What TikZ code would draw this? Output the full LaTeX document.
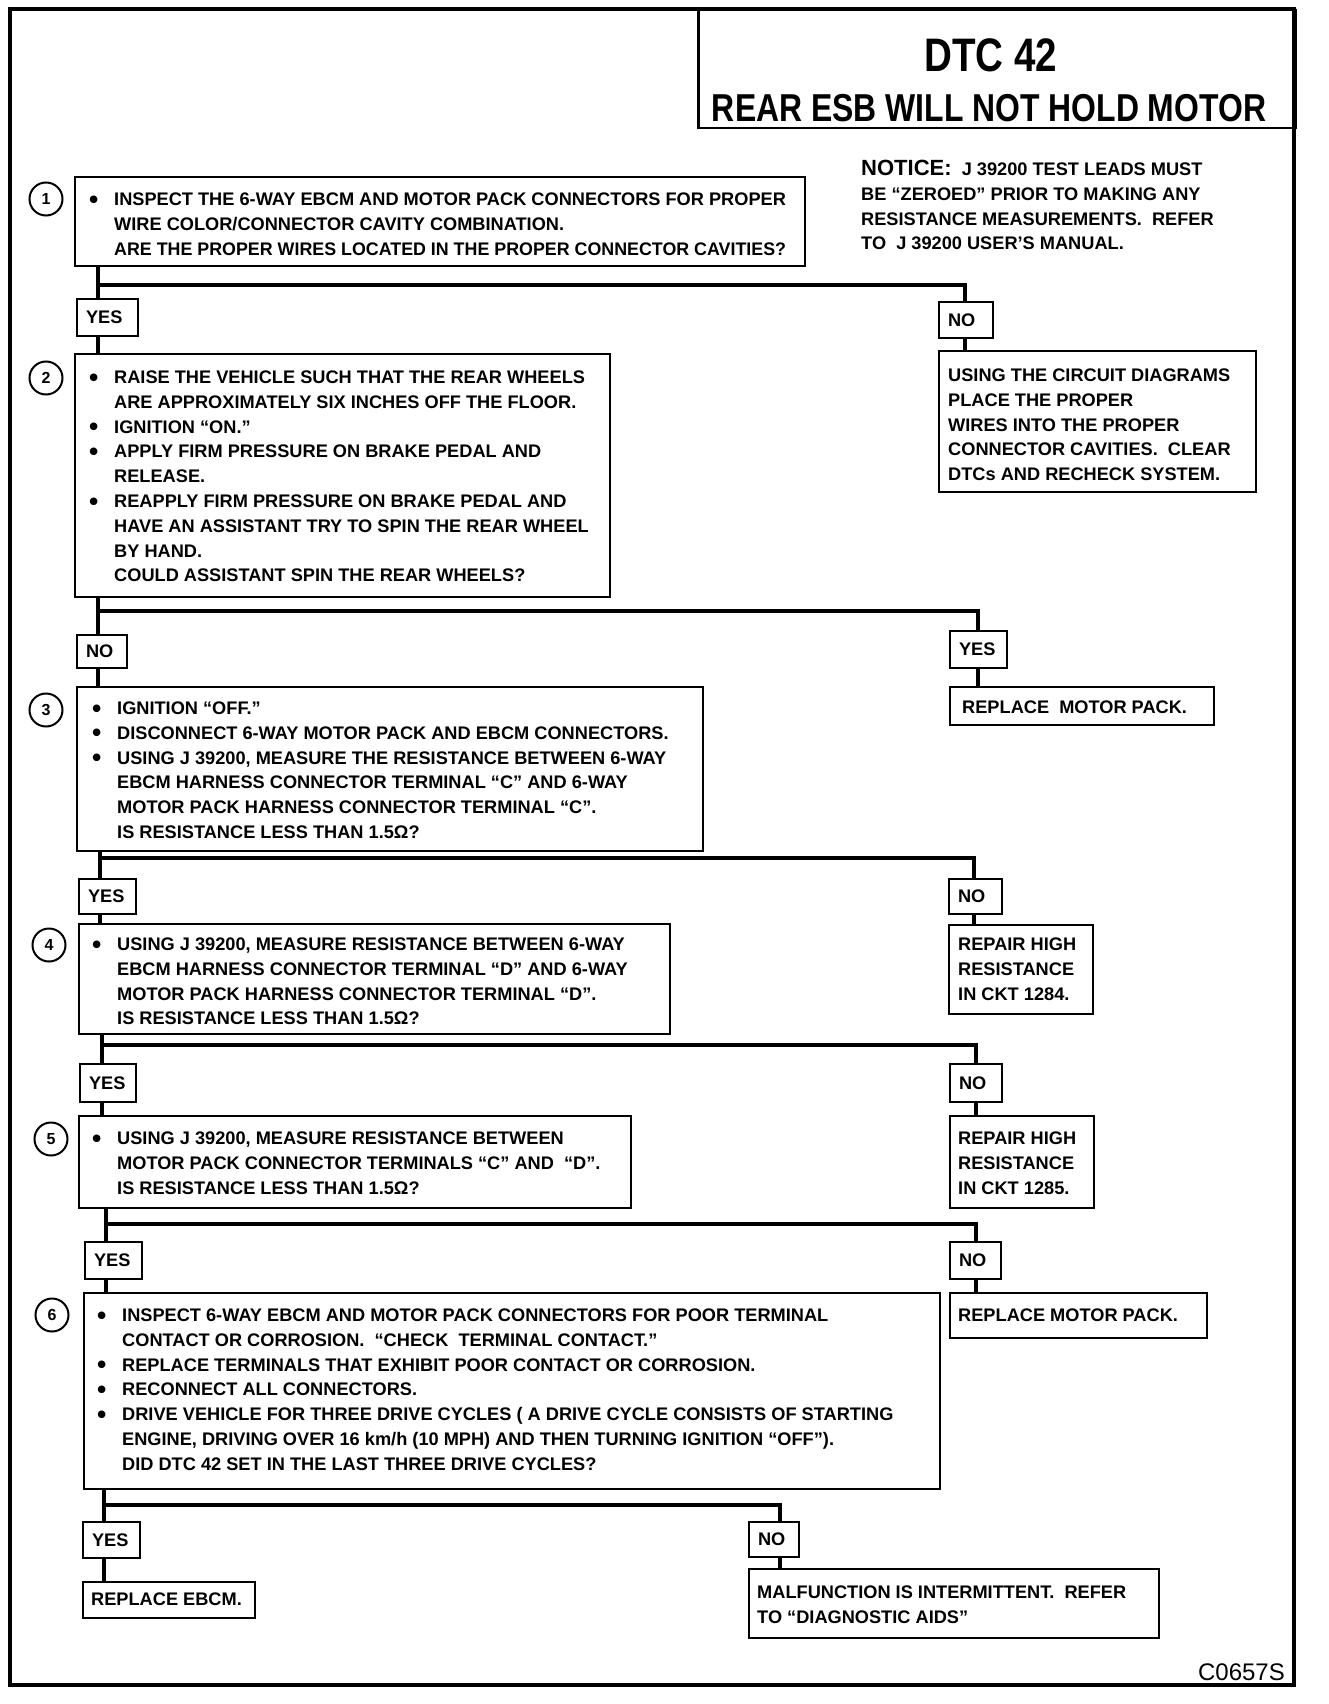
\documentclass[tikz,border=0pt]{standalone}
\usepackage{fontspec}
\usepackage{graphicx}
\setmainfont{Liberation Sans}
\newfontfamily\titlefont[FakeStretch=0.82]{Liberation Sans}
\usepackage{tikz}
\usetikzlibrary{positioning,calc}

\newcommand\bodyfont{\fontsize{18.2}{24.8}\selectfont\bfseries}
\newcommand\bul{\makebox[25pt][l]{\raisebox{-2.6pt}{\scalebox{1.45}{\textbullet}}}}
\newcommand\ind{\hspace*{25pt}}

\begin{document}
\begin{tikzpicture}[
    x=1pt, y=-1pt,
    frame/.style={line width=4.5pt},
    stepbox/.style={draw, line width=2pt, anchor=north west, inner sep=0pt},
    txt/.style={anchor=base west, inner sep=0pt, align=left, font=\bodyfont},
    lbl/.style={draw, line width=2pt, anchor=north west, inner xsep=9pt, inner ysep=0pt, align=left, font=\bodyfont},
    num/.style={draw, circle, line width=2pt, minimum size=33pt, inner sep=0pt, font=\fontsize{16}{16}\selectfont\bfseries},
    flow/.style={line width=4.5pt}
]
    \useasboundingbox (0,0) rectangle (1328,1704);

    % Frame and title
    \draw[frame] (10,9) rectangle (1294,1685);
    \node[stepbox, line width=2.5pt, minimum width=597pt, minimum height=118pt] (ttl) at (697,9) {};
    \node[anchor=base, inner sep=0pt, font=\titlefont\fontsize{47}{47}\selectfont\bfseries] (dtc) at (991,72) {DTC 42};
    \node[anchor=base, inner sep=0pt, font=\titlefont\fontsize{38.9}{40}\selectfont\bfseries] (sub) at (989,122) {REAR ESB WILL NOT HOLD MOTOR};

    % Notice (text nodes sit on the baseline of their last line)
    \node[txt] (notice) at (861,250) {{\fontsize{22}{24.8}\selectfont NOTICE:}~~J 39200 TEST LEADS MUST\\
        BE “ZEROED” PRIOR TO MAKING ANY\\
        RESISTANCE MEASUREMENTS.~~REFER\\
        TO~~J 39200 USER’S MANUAL.};

    % Step 1
    \node[num] (c1) at (46,199) {1};
    \node[stepbox, minimum width=730pt, minimum height=89pt] (b1) at (74,176) {};
    \node[txt] (t1) at (89,255.1) {\bul INSPECT THE 6-WAY EBCM AND MOTOR PACK CONNECTORS FOR PROPER\\
        \ind WIRE COLOR/CONNECTOR CAVITY COMBINATION.\\
        \ind \scalebox{0.98}[1]{ARE THE PROPER WIRES LOCATED IN THE PROPER CONNECTOR CAVITIES?}};

    % Branch 1
    \coordinate (j1) at (98,285);
    \coordinate (k1) at (965,285);
    \node[lbl, text width=43pt, minimum height=37pt] (y1) at (76,298) {YES};
    \node[lbl, text width=36pt, minimum height=36pt] (n1) at (938,301) {NO};
    \node[stepbox, minimum width=317pt, minimum height=141pt] (r1) at (938,350) {};
    \node[txt] (s1) at (948,480.7) {USING THE CIRCUIT DIAGRAMS\\
        PLACE THE PROPER\\
        WIRES INTO THE PROPER\\
        CONNECTOR CAVITIES.~~CLEAR\\
        DTCs AND RECHECK SYSTEM.};

    % Step 2
    \node[num] (c2) at (46,378) {2};
    \node[stepbox, minimum width=535pt, minimum height=243pt] (b2) at (74,353) {};
    \node[txt] (t2) at (89,581.9) {\bul RAISE THE VEHICLE SUCH THAT THE REAR WHEELS\\
        \ind ARE APPROXIMATELY SIX INCHES OFF THE FLOOR.\\
        \bul IGNITION “ON.”\\
        \bul APPLY FIRM PRESSURE ON BRAKE PEDAL AND\\
        \ind RELEASE.\\
        \bul REAPPLY FIRM PRESSURE ON BRAKE PEDAL AND\\
        \ind HAVE AN ASSISTANT TRY TO SPIN THE REAR WHEEL\\
        \ind BY HAND.\\
        \ind COULD ASSISTANT SPIN THE REAR WHEELS?};

    % Branch 2
    \coordinate (j2) at (98,611);
    \coordinate (k2) at (978,611);
    \node[lbl, text width=32pt, minimum height=33pt] (n2) at (76,634) {NO};
    \node[lbl, text width=39pt, minimum height=37pt] (y2) at (949,630) {YES};
    \node[stepbox, minimum width=264pt, minimum height=38pt] (r2) at (949,686) {};
    \node[txt] (s2) at (962,713.5) {REPLACE~~MOTOR PACK.};

    % Step 3
    \node[num] (c3) at (46,710) {3};
    \node[stepbox, minimum width=626pt, minimum height=164pt] (b3) at (76,686) {};
    \node[txt] (t3) at (92,838.5) {\bul IGNITION “OFF.”\\
        \bul DISCONNECT 6-WAY MOTOR PACK AND EBCM CONNECTORS.\\
        \bul USING J 39200, MEASURE THE RESISTANCE BETWEEN 6-WAY\\
        \ind EBCM HARNESS CONNECTOR TERMINAL “C” AND 6-WAY\\
        \ind MOTOR PACK HARNESS CONNECTOR TERMINAL “C”.\\
        \ind IS RESISTANCE LESS THAN 1.5Ω?};

    % Branch 3
    \coordinate (j3) at (100,858);
    \coordinate (k3) at (974,858);
    \node[lbl, text width=39pt, minimum height=35pt] (y3) at (78,878) {YES};
    \node[lbl, text width=35pt, minimum height=35pt] (n3) at (948,878) {NO};
    \node[stepbox, minimum width=144pt, minimum height=89pt] (r3) at (948,924) {};
    \node[txt] (s3) at (958,1000.1) {REPAIR HIGH\\ RESISTANCE\\ IN CKT 1284.};

    % Step 4
    \node[num] (c4) at (49,945) {4};
    \node[stepbox, minimum width=591pt, minimum height=110pt] (b4) at (78,923) {};
    \node[txt] (t4) at (92,1024.9) {\bul USING J 39200, MEASURE RESISTANCE BETWEEN 6-WAY\\
        \ind EBCM HARNESS CONNECTOR TERMINAL “D” AND 6-WAY\\
        \ind MOTOR PACK HARNESS CONNECTOR TERMINAL “D”.\\
        \ind IS RESISTANCE LESS THAN 1.5Ω?};

    % Branch 4
    \coordinate (j4) at (102,1045);
    \coordinate (k4) at (976,1045);
    \node[lbl, text width=38pt, minimum height=38pt] (y4) at (79,1063) {YES};
    \node[lbl, text width=34pt, minimum height=38pt] (n4) at (949,1063) {NO};
    \node[stepbox, minimum width=144pt, minimum height=92pt] (r4) at (949,1115) {};
    \node[txt] (s4) at (958,1194.1) {REPAIR HIGH\\ RESISTANCE\\ IN CKT 1285.};

    % Step 5
    \node[num] (c5) at (51,1139) {5};
    \node[stepbox, minimum width=552pt, minimum height=92pt] (b5) at (78,1115) {};
    \node[txt] (t5) at (92,1194.1) {\bul USING J 39200, MEASURE RESISTANCE BETWEEN\\
        \ind MOTOR PACK CONNECTOR TERMINALS “C” AND~~“D”.\\
        \ind IS RESISTANCE LESS THAN 1.5Ω?};

    % Branch 5
    \coordinate (j5) at (106,1224);
    \coordinate (k5) at (976,1224);
    \node[lbl, text width=39pt, minimum height=37pt] (y5) at (84,1241) {YES};
    \node[lbl, text width=33pt, minimum height=37pt] (n5) at (949,1241) {NO};
    \node[stepbox, minimum width=257pt, minimum height=45pt] (r5) at (949,1292) {};
    \node[txt] (s5) at (958,1321.5) {REPLACE MOTOR PACK.};

    % Step 6
    \node[num] (c6) at (52,1315) {6};
    \node[stepbox, minimum width=856pt, minimum height=196pt] (b6) at (83,1292) {};
    \node[txt] (t6) at (97,1470.3) {\bul INSPECT 6-WAY EBCM AND MOTOR PACK CONNECTORS FOR POOR TERMINAL\\
        \ind CONTACT OR CORROSION.~~“CHECK~~TERMINAL CONTACT.”\\
        \bul REPLACE TERMINALS THAT EXHIBIT POOR CONTACT OR CORROSION.\\
        \bul RECONNECT ALL CONNECTORS.\\
        \bul DRIVE VEHICLE FOR THREE DRIVE CYCLES ( A DRIVE CYCLE CONSISTS OF STARTING\\
        \ind ENGINE, DRIVING OVER 16 km/h (10 MPH) AND THEN TURNING IGNITION “OFF”).\\
        \ind DID DTC 42 SET IN THE LAST THREE DRIVE CYCLES?};

    % Branch 6
    \coordinate (j6) at (104,1505);
    \coordinate (k6) at (780,1505);
    \node[lbl, text width=39pt, minimum height=36pt] (y6) at (82,1521) {YES};
    \node[lbl, text width=32pt, minimum height=35pt] (n6) at (748,1521) {NO};
    \node[stepbox, minimum width=172pt, minimum height=36pt] (r6) at (82,1581) {};
    \node[txt] (s6) at (91,1605.5) {REPLACE EBCM.};
    \node[stepbox, minimum width=410pt, minimum height=69pt] (r7) at (748,1568) {};
    \node[txt] (s7) at (757,1623.3) {MALFUNCTION IS INTERMITTENT.~~REFER\\ TO “DIAGNOSTIC AIDS”};

    % Figure code
    \node[anchor=base east, inner sep=0pt, font=\fontsize{24}{24}\selectfont] (code) at (1285,1680) {C0657S};

    % Connectors
    \draw[flow] (b1.south -| j1) -- (j1) -- (k1) -- (n1.north -| k1);
    \draw[flow] (j1) -- (y1.north -| j1);
    \draw[flow] (y1.south -| j1) -- (b2.north -| j1);
    \draw[flow] (n1.south -| k1) -- (r1.north -| k1);

    \draw[flow] (b2.south -| j2) -- (j2) -- (k2) -- (y2.north -| k2);
    \draw[flow] (j2) -- (n2.north -| j2);
    \draw[flow] (n2.south -| j2) -- (b3.north -| j2);
    \draw[flow] (y2.south -| k2) -- (r2.north -| k2);

    \draw[flow] (b3.south -| j3) -- (j3) -- (k3) -- (n3.north -| k3);
    \draw[flow] (j3) -- (y3.north -| j3);
    \draw[flow] (y3.south -| j3) -- (b4.north -| j3);
    \draw[flow] (n3.south -| k3) -- (r3.north -| k3);

    \draw[flow] (b4.south -| j4) -- (j4) -- (k4) -- (n4.north -| k4);
    \draw[flow] (j4) -- (y4.north -| j4);
    \draw[flow] (y4.south -| j4) -- (b5.north -| j4);
    \draw[flow] (n4.south -| k4) -- (r4.north -| k4);

    \draw[flow] (b5.south -| j5) -- (j5) -- (k5) -- (n5.north -| k5);
    \draw[flow] (j5) -- (y5.north -| j5);
    \draw[flow] (y5.south -| j5) -- (b6.north -| j5);
    \draw[flow] (n5.south -| k5) -- (r5.north -| k5);

    \draw[flow] (b6.south -| j6) -- (j6) -- (k6) -- (n6.north -| k6);
    \draw[flow] (j6) -- (y6.north -| j6);
    \draw[flow] (y6.south -| j6) -- (r6.north -| j6);
    \draw[flow] (n6.south -| k6) -- (r7.north -| k6);
\end{tikzpicture}
\end{document}
